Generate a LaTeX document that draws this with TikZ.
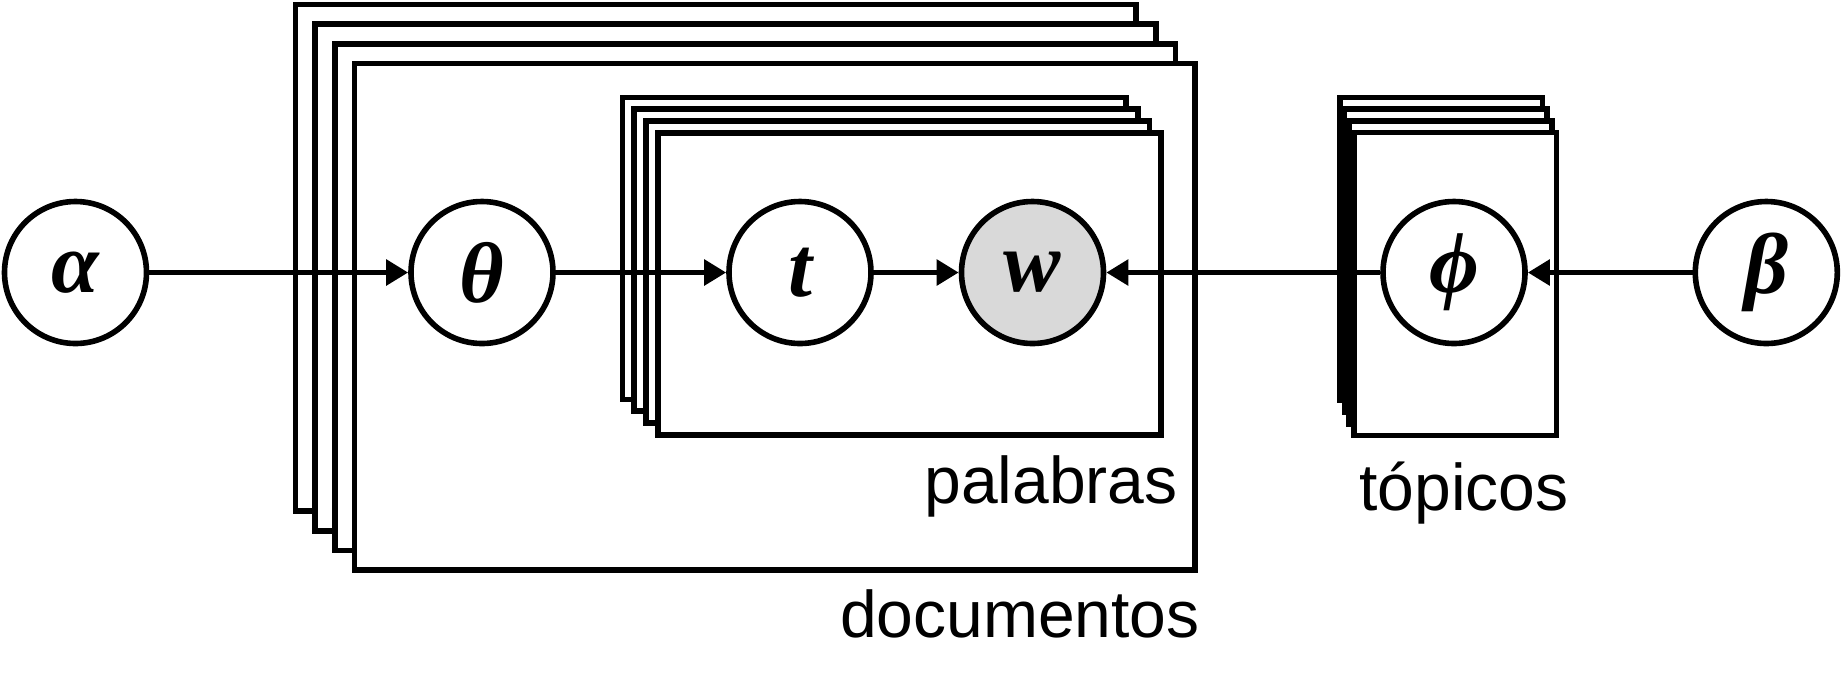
\documentclass[tikz,border=0pt]{standalone}
\usepackage{fontspec}
\setmainfont{Liberation Sans}
\newfontfamily\grk{Liberation Serif}
\usetikzlibrary{arrows.meta}
\definecolor{obsgray}{RGB}{217,217,217}
\begin{document}
\begin{tikzpicture}[x=0.5pt,y=-0.5pt,
  plate/.style={draw, fill=white, line width=2.8pt},
  var/.style={circle, draw, fill=white, line width=2.8pt, minimum size=71pt, inner sep=0pt, font=\grk\bfseries\itshape\fontsize{43pt}{45pt}\selectfont},
  obs/.style={var, fill=obsgray},
  edge/.style={line width=2.8pt, -{Triangle[length=11pt,width=12.5pt]}},
  lab/.style={inner sep=0pt, font=\fontsize{33pt}{36pt}\selectfont}]
\useasboundingbox (0,0) rectangle (1841,693);
% documentos plates
\foreach \i in {0,1,2,3}
  \filldraw[plate] ({295.5+19.7*\i},{4.5+19.7*\i}) rectangle +(840.5,506.5);
% palabras plates
\foreach \i in {0,1,2,3}
  \filldraw[plate] ({622.5+11.75*\i},{97.5+11.75*\i}) rectangle +(503.5,302);
% topicos plates
\foreach \i in {0,1,2,3}
  \filldraw[plate] ({1340+4.6*\i},{97.5+11.67*\i}) rectangle +(202.5,303);
% variables
\node[var] (alpha) at (75.5,272.5) {α};
\node[var] (theta) at (482,272.5) {θ};
\node[var] (t) at (800,272.5) {t};
\node[obs] (w) at (1032.5,272.5) {w};
\node[var] (phi) at (1454,272.5) {ϕ};
\node[var] (beta) at (1766.3,272.5) {β};
% edges
\draw[edge] (alpha) -- (theta);
\draw[edge] (theta) -- (t);
\draw[edge] (t) -- (w);
\draw[edge] (phi) -- (w);
\draw[edge] (beta) -- (phi);
% labels
\node[lab, anchor=base east] (lpal) at (1178,503.3) {palabras};
\node[lab, anchor=base east] (ldoc) at (1200,637) {documentos};
\node[lab, anchor=base] (ltop) at (1464,510) {tópicos};
\end{tikzpicture}
\end{document}
